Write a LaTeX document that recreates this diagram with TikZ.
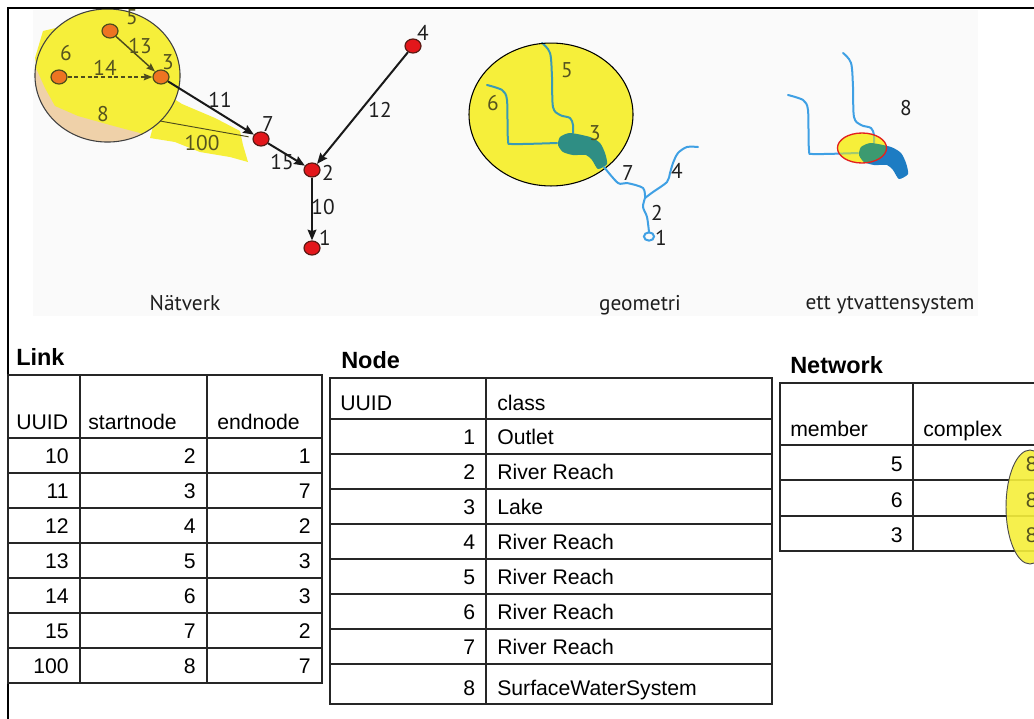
\documentclass[tikz,border=0pt]{standalone}
\usepackage{fontspec}
\setmainfont{Liberation Sans}
\newfontfamily\panelfont{PT Sans}
\usetikzlibrary{arrows.meta,shapes.geometric}

\definecolor{nodered}{HTML}{E3171B}
\definecolor{nodeedge}{HTML}{5A1A14}
\definecolor{nodeorange}{HTML}{EE7422}
\definecolor{olivedark}{HTML}{4E4C1C}
\definecolor{olivetext}{HTML}{55531F}
\definecolor{hlyellow}{HTML}{F6EF3A}
\definecolor{sandtan}{HTML}{EFD1A9}
\definecolor{labelgray}{HTML}{1E1E1E}
\definecolor{riverblue}{HTML}{3FA0E4}
\definecolor{riverteal}{HTML}{3A9AB4}
\definecolor{lakeblue}{HTML}{1D7CC3}
\definecolor{lakegreen}{HTML}{2F8E84}
\definecolor{lakeolive}{HTML}{3C9A70}
\definecolor{panelbg}{HTML}{FAFAFA}
\definecolor{ringred}{HTML}{E3201E}

% river and lake outlines of the surface water system
\newcommand\RiverFive{plot[smooth,tension=0.55] coordinates {(542,43) (550,53) (552,77) (553,107) (560,115) (570,118) (573,125) (573,133)}}
\newcommand\RiverSix{plot[smooth,tension=0.45] coordinates {(487,85) (502,90) (507,100) (508,140) (513,144) (557,143)}}
\newcommand\LakeShape{plot[smooth cycle,tension=0.4] coordinates {(560,137) (570,133) (590,137) (600,143) (605,153) (607,164) (598,169) (592,160) (586,155) (573,155) (563,152) (558,145)}}

\begin{document}
\begin{tikzpicture}[x=0.75pt,y=-0.75pt,
  tblline/.style={line width=1.1pt,draw=black!85},
  tcell/.style={inner sep=0pt,font=\fontsize{15.9}{19}\selectfont},
  tnum/.style={tcell,anchor=base east},
  ttext/.style={tcell,anchor=base west},
  ttitle/.style={inner sep=0pt,anchor=base west,font=\fontsize{17.6}{21}\selectfont\bfseries},
  plabel/.style={inner sep=0pt,font=\panelfont\fontsize{16}{19}\selectfont,text=labelgray},
  hlabel/.style={plabel,text=olivetext},
  pcaption/.style={plabel,anchor=base},
  netnode/.style={ellipse,minimum width=12pt,minimum height=10.5pt,inner sep=0pt,
    fill=nodered,draw=nodeedge,line width=0.9pt},
  hinode/.style={netnode,fill=nodeorange,draw=olivedark},
  netarrow/.style={line width=1.5pt,draw=black!90,
    -{Stealth[length=8pt,width=6.5pt,inset=1pt]}},
  hiarrow/.style={line width=1.1pt,draw=olivedark,
    -{Stealth[length=6.5pt,width=5pt,inset=1pt]}},
  river/.style={line width=1.5pt,draw=riverblue,line cap=round,line join=round},
]
\path[use as bounding box] (0,0) rectangle (1034,718);
\clip (0,0) rectangle (1034,718);
\fill[white] (0,0) rectangle (1034,718);

% ---------- picture strip ----------
\fill[panelbg] (33,10) rectangle (978,316);

% Network (Nätverk): highlighted surface water system
\fill[sandtan] (107.5,75.5) ellipse [x radius=54.4pt,y radius=49.9pt];
\begin{scope}
  \clip (107.5,75.5) ellipse [x radius=54.4pt,y radius=49.9pt];
  \fill[hlyellow] (0,0) -- (220,0) -- (220,150) -- (150,140) -- (140,133) -- (110,125)
    -- (78,116) -- (55,106) -- (45,88) -- (36,68) -- (0,68) -- cycle;
\end{scope}
\fill[hlyellow] (43,31) -- (60,27) -- (48,55) -- (37,68) -- (35,58) -- cycle;
\fill[hlyellow] (160,100) -- (168,95) -- (182,104) -- (215,118) -- (240,131) -- (243,145)
  -- (248,162) -- (230,157) -- (200,152) -- (175,142) -- (150,138) -- cycle;
\draw[black!75,line width=0.8pt] (107.5,75.5) ellipse [x radius=54.4pt,y radius=49.9pt];

\node[hinode] (n5) at (110,31) {};
\node[hinode] (n6) at (59,77) {};
\node[hinode] (n3) at (161,77) {};
\node[netnode] (n7) at (261,139) {};
\node[netnode] (n2) at (312,170) {};
\node[netnode] (n1) at (312,248) {};
\node[netnode] (n4) at (413,46) {};
\coordinate (c8) at (160,121);

\draw[hiarrow] (n5) -- (n3);
\draw[hiarrow,densely dashed] (n6) -- (n3);
\draw[olivedark,line width=0.7pt,shorten >=3pt] (c8) -- (n7);
\draw[netarrow] (n3) -- (n7);
\draw[netarrow] (n7) -- (n2);
\draw[netarrow] (n4) -- (n2);
\draw[netarrow] (n2) -- (n1);

\node[hlabel] (l5) at (132,17) {5};
\node[hlabel] (l13) at (140,46) {13};
\node[hlabel] (l3) at (168,62) {3};
\node[hlabel] (l6) at (66,53) {6};
\node[hlabel] (l14) at (105,68) {14};
\node[hlabel] (l8) at (103,114) {8};
\node[hlabel] (l100) at (202,143) {100};
\node[plabel] (l11) at (220,100) {11};
\node[plabel] (l7) at (268,124) {7};
\node[plabel] (l12) at (380,110) {12};
\node[plabel] (l15) at (282,162) {15};
\node[plabel] (l2) at (328,173) {2};
\node[plabel] (l10) at (323,207) {10};
\node[plabel] (l1) at (325,238) {1};
\node[plabel] (l4) at (423,33) {4};
\node[pcaption] (capnet) at (185,310) {Nätverk};

% Geometry (geometri)
\fill[hlyellow] (551,114.5) ellipse [x radius=61.5pt,y radius=53.6pt];
\draw[river,draw=riverteal] \RiverFive;
\draw[river,draw=riverteal] \RiverSix;
\fill[lakegreen] \LakeShape;
\draw[black,line width=0.8pt] (551,114.5) ellipse [x radius=61.5pt,y radius=53.6pt];
\draw[river] plot[smooth,tension=0.5] coordinates {(604,167) (618,183) (627,183) (643,188) (645,198)};
\draw[river] plot[smooth,tension=0.5] coordinates {(698,147) (687,147) (678,153) (673,163) (670,173) (667,182) (653,192) (645,198)};
\draw[river] plot[smooth,tension=0.5] coordinates {(645,198) (643,207) (647,217) (649,232)};
\draw[riverblue,line width=1.5pt] (649,236.5) ellipse [x radius=3.8pt,y radius=3.1pt];

\node[hlabel] (g5) at (567,70) {5};
\node[hlabel] (g6) at (493,103) {6};
\node[hlabel] (g3) at (595,133) {3};
\node[plabel] (g7) at (628,173) {7};
\node[plabel] (g4) at (677,171) {4};
\node[plabel] (g2) at (657,213) {2};
\node[plabel] (g1) at (661,238) {1};
\node[pcaption] (capgeo) at (640,310) {geometri};

% Surface water system (ett ytvattensystem)
\begin{scope}[shift={(301,10)}]
  \draw[river] \RiverFive;
  \draw[river] \RiverSix;
  \fill[lakeblue] \LakeShape;
\end{scope}
\fill[hlyellow] (862,148) ellipse [x radius=18.4pt,y radius=11.25pt];
\begin{scope}
  \clip (862,148) ellipse [x radius=18.4pt,y radius=11.25pt];
  \begin{scope}[shift={(301,10)}]
    \draw[river,draw=riverteal!45!hlyellow] \RiverFive;
    \draw[river,draw=riverteal!45!hlyellow] \RiverSix;
    \fill[lakeolive] \LakeShape;
  \end{scope}
\end{scope}
\draw[ringred,line width=1pt] (862,148) ellipse [x radius=18.4pt,y radius=11.25pt];
\node[plabel] (s8) at (906,108) {8};
\node[pcaption] (capsys) at (890,309) {ett ytvattensystem};

% outer frame
\draw[black,line width=1.9pt] (8,740) -- (8,8) -- (1050,8);

% ---------- Link table ----------
\node[ttitle] (tlink) at (16,365.5) {Link};
\draw[tblline] (8,375) rectangle (322,683);
\foreach \yy in {438,473,...,648} \draw[tblline] (8,\yy) -- (322,\yy);
\draw[tblline] (80,375) -- (80,683);
\draw[tblline] (207,375) -- (207,683);
\node[ttext] (lh1) at (16,429) {UUID};
\node[ttext] (lh2) at (88,429) {startnode};
\node[ttext] (lh3) at (217,429) {endnode};
\foreach \u/\s/\e [count=\i] in {10/2/1,11/3/7,12/4/2,13/5/3,14/6/3,15/7/2,100/8/7}{
  \node[tnum] (lu\i) at (69,428+35*\i) {\u};
  \node[tnum] (ls\i) at (196,428+35*\i) {\s};
  \node[tnum] (le\i) at (311,428+35*\i) {\e};
}

% ---------- Node table ----------
\node[ttitle] (tnode) at (341,368.5) {Node};
\draw[tblline] (330,378) rectangle (772,704);
\foreach \yy in {419,454,...,664} \draw[tblline] (330,\yy) -- (772,\yy);
\draw[tblline] (486,378) -- (486,704);
\node[ttext] (nh1) at (340,410) {UUID};
\node[ttext] (nh2) at (497,410) {class};
\foreach \u/\c [count=\i] in {1/Outlet,2/River Reach,3/Lake,4/River Reach,5/River Reach,6/River Reach,7/River Reach}{
  \node[tnum] (nu\i) at (475.5,409+35*\i) {\u};
  \node[ttext] (nc\i) at (497,409+35*\i) {\c};
}
\node[tnum] (nu8) at (475.5,695) {8};
\node[ttext] (nc8) at (497,695) {SurfaceWaterSystem};

% ---------- Network table ----------
\node[ttitle] (tnet) at (790,373.5) {Network};
\draw[tblline] (780,383) rectangle (1060,551);
\foreach \yy in {445,480,516} \draw[tblline] (780,\yy) -- (1060,\yy);
\draw[tblline] (913,383) -- (913,551);
\node[ttext] (wh1) at (790,436) {member};
\node[ttext] (wh2) at (923,436) {complex};
\node[tnum] (wm1) at (903,471.5) {5};
\node[tnum] (wm2) at (903,507) {6};
\node[tnum] (wm3) at (903,542) {3};
\fill[hlyellow,opacity=0.9] (1030,507) ellipse [x radius=18pt,y radius=42.75pt];
\draw[black!70,line width=0.7pt] (1030,507) ellipse [x radius=18pt,y radius=42.75pt];
\node[tnum,text=olivetext] (wc1) at (1038,471.5) {8};
\node[tnum,text=olivetext] (wc2) at (1038,507) {8};
\node[tnum,text=olivetext] (wc3) at (1038,542) {8};
\end{tikzpicture}
\end{document}
